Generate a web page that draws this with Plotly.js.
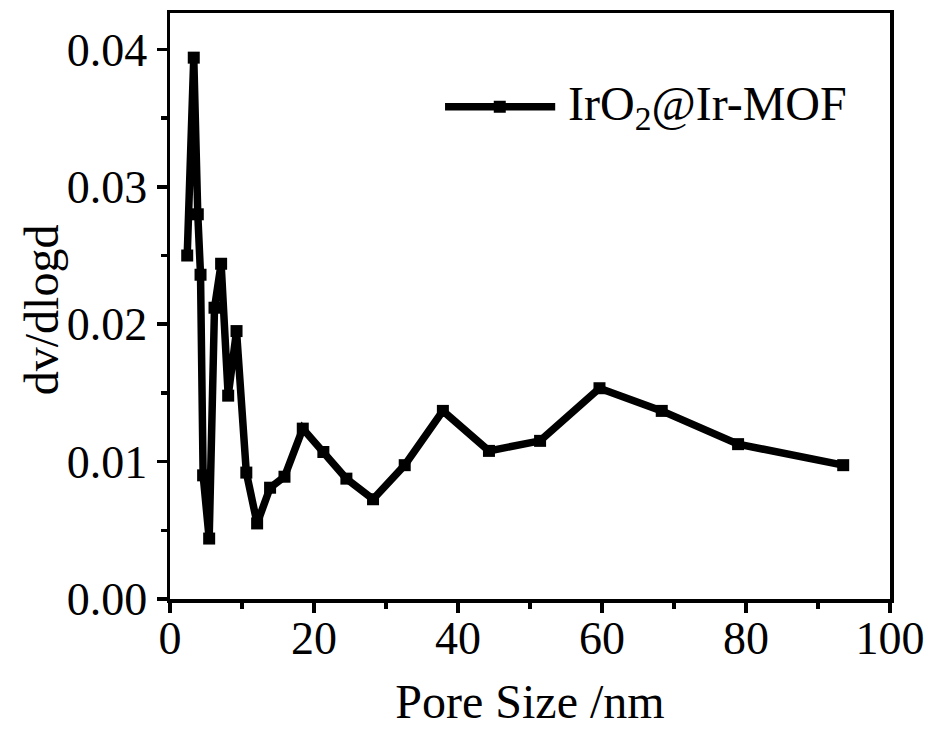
<!DOCTYPE html>
<html>
<head>
<meta charset="utf-8">
<script src="https://cdn.plot.ly/plotly-3.0.1.min.js"></script>
<style>html,body{margin:0;padding:0;background:#fff;}#chart{width:931px;height:738px;}</style>
</head>
<body>
<div id="chart"></div>
<script>
// Data
const poreSize = [2.39, 3.3, 3.86, 4.24, 4.6, 5.44, 6.18, 7.1, 8.08, 9.24, 10.6, 12.1, 13.9, 15.9, 18.44, 21.3, 24.5, 28.2, 32.6, 37.9, 44.3, 51.4, 59.65, 68.3, 78.9, 93.5];
const dvdlogd = [0.0250, 0.0394, 0.0280, 0.0236, 0.0090, 0.0044, 0.0212, 0.0244, 0.0148, 0.0195, 0.0092, 0.0055, 0.0081, 0.0089, 0.0124, 0.0107, 0.00876, 0.00726, 0.00974, 0.01369, 0.01078, 0.01151, 0.01534, 0.01369, 0.01127, 0.00974];
const seriesName = "IrO<sub>2</sub>@Ir-MOF";
const xTickVals = [0, 20, 40, 60, 80, 100];
const yTickVals = [0, 0.01, 0.02, 0.03, 0.04];
const yTickText = ["0.00", "0.01", "0.02", "0.03", "0.04"];

const FONT = "Liberation Serif";

const trace = {
  x: poreSize,
  y: dvdlogd,
  type: 'scatter',
  mode: 'lines+markers',
  name: seriesName,
  line: {color: '#000', width: 7.5},
  marker: {symbol: 'square', size: 12, color: '#000'},
  showlegend: false
};

const legX = 0.458, legY = 0.840;
const layout = {
  width: 931, height: 738,
  margin: {l: 170, r: 41, t: 13, b: 139},
  paper_bgcolor: '#fff', plot_bgcolor: '#fff',
  font: {family: FONT, color: '#000', size: 46},
  showlegend: false,
  xaxis: {
    range: [0, 100],
    tickvals: xTickVals,
    ticks: 'outside', ticklen: 10, tickwidth: 3.5, tickcolor: '#000',
    minor: {ticks: 'outside', ticklen: 6, tickwidth: 3.5, tickcolor: '#000', dtick: 10},
    showline: true, linewidth: 3.5, linecolor: '#000', mirror: true,
    showgrid: false, zeroline: false,
    ticklabelstandoff: -14,
    tickfont: {family: FONT, size: 46},
    title: {text: 'Pore Size /nm', font: {family: FONT, size: 48}, standoff: 22}
  },
  yaxis: {
    range: [0, 0.04265],
    tickvals: yTickVals, ticktext: yTickText,
    ticks: 'outside', ticklen: 10, tickwidth: 3.5, tickcolor: '#000',
    minor: {ticks: 'outside', ticklen: 6, tickwidth: 3.5, tickcolor: '#000', tickvals: [0.005, 0.015, 0.025, 0.035]},
    showline: true, linewidth: 3.5, linecolor: '#000', mirror: true,
    showgrid: false, zeroline: false,
    tickfont: {family: FONT, size: 46}
  },
  shapes: [
    {type: 'line', xref: 'paper', yref: 'paper', x0: 0.382, x1: 0.535, y0: legY, y1: legY,
     line: {color: '#000', width: 7.5}},
    {type: 'rect', xref: 'paper', yref: 'paper', xsizemode: 'pixel', ysizemode: 'pixel',
     xanchor: legX, yanchor: legY, x0: -6, x1: 6, y0: -6, y1: 6,
     fillcolor: '#000', line: {width: 0}}
  ],
  annotations: [
    {xref: 'paper', yref: 'paper', x: 0.550, y: legY, xanchor: 'left', yanchor: 'middle',
     text: seriesName, showarrow: false, font: {family: FONT, size: 48, color: '#000'}},
    {xref: 'paper', yref: 'paper', x: -0.179, y: 0.493, xanchor: 'center', yanchor: 'middle',
     textangle: -90, text: 'dv/dlogd', showarrow: false, font: {family: FONT, size: 48, color: '#000'}}
  ]
};

Plotly.newPlot('chart', [trace], layout, {displayModeBar: false, staticPlot: true});
</script>
</body>
</html>
